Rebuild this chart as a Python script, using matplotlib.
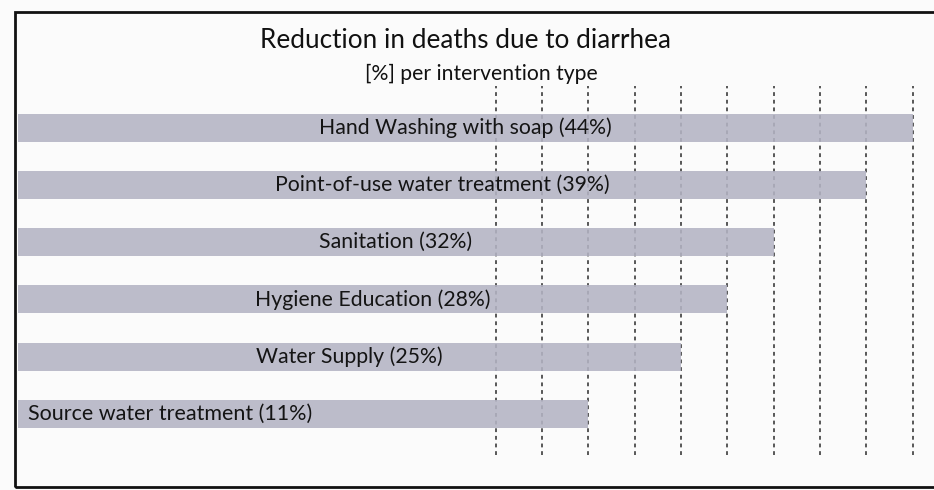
import matplotlib
matplotlib.use("Agg")
import matplotlib.pyplot as plt
from matplotlib.patches import Rectangle

# interventions, top to bottom
labels = ["Hand Washing with soap", "Point-of-use water treatment", "Sanitation",
          "Hygiene Education", "Water Supply", "Source water treatment"]
pct = [44, 39, 32, 28, 25, 11]
# drawn bar length in gridline units
bar_len = [20, 19, 17, 16, 15, 13]
grid_x = [11, 12, 13, 14, 15, 16, 17, 18, 19, 20]

plt.rcParams["font.family"] = ["Lato", "DejaVu Sans"]

fig = plt.figure(figsize=(9.34, 4.9), dpi=100)
fig.patch.set_facecolor("#fbfbfb")

W, H = 934.0, 490.0
ax = fig.add_axes([18 / W, (H - 455) / H, 916 / W, (455 - 86) / H])
ax.set_facecolor("none")

for g in grid_x:
    ax.axvline(g, color="#2b2b2b", lw=1.1, linestyle=(0, (2.5, 2.5)), zorder=1)

ypos = list(range(len(labels)))
ax.barh(ypos, bar_len, height=0.49, color="#b4b4c4", alpha=0.88, zorder=2)

x0 = 0.69
for y, name, p, b in zip(ypos, labels, pct, bar_len):
    txt = "%s (%d%%)" % (name, p)
    if b < 14:
        ax.text(x0 + 0.22, y, txt, ha="left", va="center", fontsize=15.5,
                color="#141414", zorder=3)
    else:
        ax.text((x0 + b) / 2, y, txt, ha="center", va="center",
                fontsize=15.3, color="#141414", zorder=3)

ax.set_xlim(x0, 20.46)
ax.set_ylim(5.72, -0.73)
ax.axis("off")

fig.text(466 / W, 1 - 41 / H, "Reduction in deaths due to diarrhea",
         ha="center", va="center", fontsize=18.8, color="#111111")
fig.text(481 / W, 1 - 74 / H, "[%] per intervention type",
         ha="center", va="center", fontsize=15.2, color="#111111")

# frame around the chart, running off the right edge
fig.patches.append(Rectangle((15 / W, 3 / H), 1.0, 475 / H, transform=fig.transFigure,
                             fill=False, edgecolor="#111111", lw=2, clip_on=False))

fig.savefig("out.png", dpi=100)
